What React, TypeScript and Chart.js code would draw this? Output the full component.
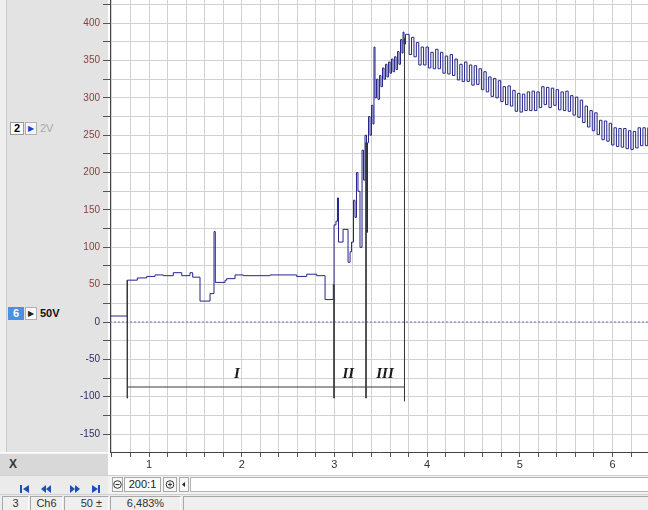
import React, { useEffect, useRef } from 'react';
import { Chart, registerables } from 'chart.js';

Chart.register(...registerables);

// ---------- axis ranges & tick labels ----------
const X_MIN = 0.579;
const X_MAX = 6.383;
const Y_MIN = -174;
const Y_MAX = 431;
const xTickLabels = [1, 2, 3, 4, 5, 6];
const yTickLabels = [400, 350, 300, 250, 200, 150, 100, 50, 0, -50, -100, -150];

// ---------- trace data (time in s, value) ----------
// Phase I: sample-and-hold levels
const phase1Times = [0.579, 0.766, 0.874, 0.975, 1.065, 1.154, 1.262, 1.353, 1.442, 1.471, 1.55, 1.658, 1.701, 1.715, 1.82, 1.838, 1.928, 2.017, 2.305, 2.593, 2.701, 2.809, 2.899, 2.988];
const phase1Values = [8, 56, 59, 61, 63, 62, 66, 62, 66, 60, 28, 38, 121, 53, 56, 58, 63, 62, 63, 61, 64, 62, 30, 50];

// Phase II
const phase2Times = [2.996, 3.017, 3.033, 3.044, 3.093, 3.147, 3.169, 3.185, 3.206, 3.222, 3.238, 3.254, 3.276, 3.298, 3.314, 3.33, 3.346, 3.357];
const phase2Values = [130, 135, 166, 107, 124, 80, 94, 107, 163, 140, 200, 175, 100, 230, 190, 250, 120, 240];

// Phase III rise to peak
const riseTimes = [3.368, 3.384, 3.4, 3.416, 3.427, 3.438, 3.454, 3.47, 3.487, 3.502, 3.519, 3.535, 3.551, 3.567, 3.584, 3.6, 3.616, 3.632, 3.649, 3.665, 3.681, 3.697, 3.713, 3.729, 3.74, 3.751, 3.767];
const riseValues = [275, 250, 290, 265, 368, 300, 325, 298, 330, 315, 340, 325, 345, 328, 348, 333, 352, 335, 355, 338, 362, 345, 378, 360, 388, 372, 385];

// Phase III decay: samples every DECAY_STEP s from DECAY_START
const DECAY_START = 3.78;
const DECAY_STEP = 0.026;
const decayValues = [
  385, 358, 381, 355, 374, 344, 368, 344, 368, 340,
  361, 339, 365, 339, 361, 333, 356, 332, 358, 330,
  352, 324, 345, 322, 348, 322, 344, 317, 343, 318,
  339, 311, 335, 308, 328, 302, 326, 300, 323, 295,
  315, 291, 316, 289, 310, 282, 306, 281, 305, 283,
  308, 283, 309, 283, 308, 287, 315, 291, 314, 287,
  313, 290, 311, 284, 308, 283, 309, 282, 303, 277,
  301, 274, 297, 267, 289, 261, 283, 256, 280, 251,
  270, 244, 269, 242, 266, 237, 260, 235, 259, 234,
  259, 232, 256, 231, 255, 233, 260, 236, 260, 236,
  260, 238,
];

// ---------- phase markers ----------
const markerTimes = [0.766, 2.996, 3.341, 3.756];
const markerTops = [56, 50, 240, 380];
const markerBottoms = [-102, -102, -102, -106];
const bracketLevel = -87;
const phaseLabels = ['I', 'II', 'III'];
const phaseLabelTimes = [1.949, 3.15, 3.546];
const phaseLabelLevel = -70;

const TRACE_COLOR = '#24248a';
const GRID_COLOR = '#d2d2d2';

function buildTrace() {
  const pts: { x: number; y: number }[] = [];
  phase1Times.forEach((t, i) => pts.push({ x: t, y: phase1Values[i] }));
  phase2Times.forEach((t, i) => pts.push({ x: t, y: phase2Values[i] }));
  riseTimes.forEach((t, i) => pts.push({ x: t, y: riseValues[i] }));
  decayValues.forEach((v, i) => pts.push({ x: DECAY_START + i * DECAY_STEP, y: v }));
  pts.push({ x: DECAY_START + decayValues.length * DECAY_STEP, y: decayValues[decayValues.length - 1] });
  return pts;
}

// vertical grid lines at every x tick (drawn beneath the data), aligned like Chart.js
const vGridPlugin = {
  id: 'vGrid',
  beforeDatasetsDraw(chart: any) {
    const { ctx, chartArea, scales } = chart;
    const xs = scales.x;
    ctx.save();
    ctx.strokeStyle = GRID_COLOR;
    ctx.lineWidth = 1;
    ctx.beginPath();
    xs.ticks.forEach((tk: any) => {
      const px = Math.round(xs.getPixelForValue(tk.value) - 0.5) + 0.5;
      ctx.moveTo(px, chartArea.top);
      ctx.lineTo(px, chartArea.bottom);
    });
    ctx.stroke();
    ctx.restore();
  },
};

const phaseLabelPlugin = {
  id: 'phaseLabels',
  afterDatasetsDraw(chart: any) {
    const { ctx, scales } = chart;
    const xs = scales.x;
    const ys = scales.y;
    ctx.save();
    ctx.font = 'italic bold 15px "Liberation Serif", "DejaVu Serif", serif';
    ctx.fillStyle = '#1a1a1a';
    ctx.textAlign = 'center';
    ctx.textBaseline = 'middle';
    phaseLabels.forEach((lab, i) => {
      ctx.fillText(lab, xs.getPixelForValue(phaseLabelTimes[i]), ys.getPixelForValue(phaseLabelLevel));
    });
    ctx.restore();
  },
};

function NavIcon({ kind }: { kind: string }) {
  const c = '#1f4fb5';
  if (kind === 'first')
    return (
      <svg width="10" height="10"><rect x="0" y="1" width="2" height="8" fill={c} /><polygon points="9,1 9,9 3,5" fill={c} /></svg>
    );
  if (kind === 'back')
    return (
      <svg width="12" height="10"><polygon points="6,1 6,9 1,5" fill={c} /><polygon points="11,1 11,9 6,5" fill={c} /></svg>
    );
  if (kind === 'fwd')
    return (
      <svg width="12" height="10"><polygon points="1,1 1,9 6,5" fill={c} /><polygon points="6,1 6,9 11,5" fill={c} /></svg>
    );
  return (
    <svg width="10" height="10"><polygon points="1,1 1,9 7,5" fill={c} /><rect x="7" y="1" width="2" height="8" fill={c} /></svg>
  );
}

export default function App() {
  const ref = useRef<HTMLCanvasElement>(null);

  useEffect(() => {
    document.body.style.margin = '0';
    const canvas = ref.current;
    if (!canvas) return;
    const datasets: any[] = [];
    datasets.push({
      data: buildTrace(),
      borderColor: TRACE_COLOR,
      borderWidth: 1,
      stepped: 'before',
      pointRadius: 0,
      fill: false,
      order: 2,
    });
    datasets.push({
      data: [{ x: X_MIN, y: 0 }, { x: X_MAX, y: 0 }],
      borderColor: '#6b6be0',
      borderWidth: 1,
      borderDash: [2, 2],
      pointRadius: 0,
      order: 3,
    });
    markerTimes.forEach((t, i) => {
      datasets.push({
        data: [{ x: t, y: markerTops[i] }, { x: t, y: markerBottoms[i] }],
        borderColor: '#3a3a3a',
        borderWidth: 1,
        pointRadius: 0,
        order: 1,
      });
    });
    datasets.push({
      data: [{ x: markerTimes[0], y: bracketLevel }, { x: markerTimes[markerTimes.length - 1], y: bracketLevel }],
      borderColor: '#3a3a3a',
      borderWidth: 1,
      pointRadius: 0,
      order: 1,
    });

    const chart = new Chart(canvas, {
      type: 'line',
      data: { datasets },
      options: {
        animation: false,
        responsive: false,
        maintainAspectRatio: false,
        events: [],
        layout: { padding: 0 },
        plugins: { legend: { display: false }, tooltip: { enabled: false } },
        scales: {
          x: {
            type: 'linear',
            min: X_MIN,
            max: X_MAX,
            afterFit: (s: any) => {
              s.height = 24;
              s.paddingLeft = 0;
              s.paddingRight = 0;
            },
            ticks: {
              stepSize: 0.2,
              autoSkip: false,
              includeBounds: false,
              maxRotation: 0,
              minRotation: 0,
              padding: 1,
              color: '#333',
              font: { family: '"Liberation Sans", Arial, sans-serif', size: 11 },
              callback: (v: any) => {
                const r = Math.round(Number(v) * 1000) / 1000;
                return xTickLabels.includes(r) ? String(r) : '';
              },
            },
            grid: { color: GRID_COLOR, tickColor: '#555', tickLength: 5, lineWidth: 1, drawOnChartArea: false },
            border: { display: true, color: '#444', width: 1 },
          },
          y: {
            type: 'linear',
            min: Y_MIN,
            max: Y_MAX,
            afterFit: (s: any) => {
              s.width = 110;
              s.paddingTop = 0;
              s.paddingBottom = 0;
            },
            ticks: {
              stepSize: 25,
              autoSkip: false,
              includeBounds: false,
              padding: 3,
              color: (c: any) => (c.tick && c.tick.value > 0 ? '#8a3d3d' : '#2e2e66'),
              font: { family: '"Liberation Sans", Arial, sans-serif', size: 10 },
              callback: (v: any) => {
                const r = Math.round(Number(v));
                return yTickLabels.includes(r) ? String(r) : '';
              },
            },
            grid: { color: GRID_COLOR, tickColor: '#555', tickLength: 7, lineWidth: 1 },
            border: { display: true, color: '#444', width: 1 },
          },
        },
      },
      plugins: [vGridPlugin, phaseLabelPlugin],
    } as any);
    return () => chart.destroy();
  }, []);

  const font = '"Liberation Sans", Arial, sans-serif';
  const abs = (s: any) => ({ position: 'absolute', boxSizing: 'border-box', ...s } as React.CSSProperties);

  return (
    <div style={{ position: 'fixed', left: 0, top: 0, width: 648, height: 510, background: '#fff', overflow: 'hidden', fontFamily: font }}>
      {/* left channel panel */}
      <div style={abs({ left: 0, top: 0, width: 108, height: 452, background: '#e3e3e3' })} />
      <div style={abs({ left: 0, top: 0, width: 7, height: 452, background: '#efefef', borderRight: '1px solid #c9c9c9' })} />

      {/* channel 2 label */}
      <div style={abs({ left: 10, top: 122, width: 14, height: 13, background: '#fff', border: '1px solid #9a9a9a', fontSize: 11, fontWeight: 'bold', textAlign: 'center', lineHeight: '11px', color: '#000' })}>2</div>
      <div style={abs({ left: 25, top: 122, width: 12, height: 13, background: '#f6f6f6', border: '1px solid #b0b0b0', fontSize: 8, color: '#1f3fd0', textAlign: 'center', lineHeight: '11px' })}>▶</div>
      <div style={abs({ left: 40, top: 122, fontSize: 11, color: '#a9a9a9', lineHeight: '13px' })}>2V</div>

      {/* channel 6 label */}
      <div style={abs({ left: 8, top: 307, width: 16, height: 13, background: '#4d8fe2', fontSize: 11, fontWeight: 'bold', textAlign: 'center', lineHeight: '13px', color: '#fff' })}>6</div>
      <div style={abs({ left: 25, top: 307, width: 12, height: 13, background: '#fafafa', border: '1px solid #b0b0b0', fontSize: 8, color: '#222', textAlign: 'center', lineHeight: '11px' })}>▶</div>
      <div style={abs({ left: 40, top: 307, fontSize: 11, fontWeight: 'bold', color: '#111', lineHeight: '13px' })}>50V</div>

      {/* X row */}
      <div style={abs({ left: 0, top: 453, width: 108, height: 22, background: '#d8d8d8', borderTop: '1px solid #f2f2f2' })}>
        <span style={{ position: 'absolute', left: 9, top: 3, fontSize: 12, fontWeight: 'bold', color: '#333' }}>X</span>
      </div>

      {/* navigation row */}
      <div style={abs({ left: 0, top: 475, width: 108, height: 19, background: '#ebebeb', borderTop: '1px solid #cfcfcf' })}>
        <div style={abs({ left: 20, top: 4 })}><NavIcon kind="first" /></div>
        <div style={abs({ left: 40, top: 4 })}><NavIcon kind="back" /></div>
        <div style={abs({ left: 69, top: 4 })}><NavIcon kind="fwd" /></div>
        <div style={abs({ left: 91, top: 4 })}><NavIcon kind="last" /></div>
      </div>
      <div style={abs({ left: 108, top: 475, width: 540, height: 19, background: '#f3f3f3', borderTop: '1px solid #cfcfcf' })} />
      <div style={abs({ left: 112, top: 477, width: 11, height: 15, background: '#f7f7f7', border: '1px solid #a8a8a8' })}>
        <svg width="9" height="13" style={{ position: 'absolute', left: 0, top: 0 }}>
          <circle cx="4.5" cy="6.5" r="3.8" fill="none" stroke="#333" strokeWidth="1" />
          <line x1="2.5" y1="6.5" x2="6.5" y2="6.5" stroke="#333" strokeWidth="1" />
        </svg>
      </div>
      <div style={abs({ left: 124, top: 477, width: 37, height: 15, background: '#fafafa', border: '1px solid #a8a8a8', fontSize: 11, color: '#222', textAlign: 'center', lineHeight: '13px' })}>200:1</div>
      <div style={abs({ left: 163, top: 477, width: 14, height: 15, background: '#f7f7f7', border: '1px solid #a8a8a8' })}>
        <svg width="12" height="13" style={{ position: 'absolute', left: 0, top: 0 }}>
          <circle cx="6" cy="6.5" r="3.8" fill="none" stroke="#333" strokeWidth="1" />
          <line x1="4" y1="6.5" x2="8" y2="6.5" stroke="#333" strokeWidth="1" />
          <line x1="6" y1="4.5" x2="6" y2="8.5" stroke="#333" strokeWidth="1" />
        </svg>
      </div>
      <div style={abs({ left: 179, top: 477, width: 10, height: 15, background: '#f7f7f7', border: '1px solid #a8a8a8' })}>
        <svg width="8" height="13" style={{ position: 'absolute', left: 0, top: 0 }}>
          <polygon points="5,4 5,9 2,6.5" fill="#222" />
        </svg>
      </div>
      <div style={abs({ left: 190, top: 477, width: 458, height: 15, background: '#fff', border: '1px solid #b5b5b5', borderRight: 'none' })} />

      {/* status bar */}
      <div style={abs({ left: 0, top: 494, width: 648, height: 16, background: '#ececec', borderTop: '1px solid #d0d0d0' })} />
      {[
        { l: 2, w: 27, t: '3', a: 'center' },
        { l: 30, w: 33, t: 'Ch6', a: 'center' },
        { l: 64, w: 45, t: '50 ±', a: 'right' },
        { l: 110, w: 71, t: '6,483%', a: 'center' },
        { l: 183, w: 470, t: '', a: 'left' },
      ].map((c, i) => (
        <div key={i} style={abs({ left: c.l, top: 496, width: c.w, height: 14, borderTop: '1px solid #a8a8a8', borderLeft: '1px solid #a8a8a8', borderRight: '1px solid #fff', background: '#efefef', fontSize: 11, color: '#333', textAlign: c.a, lineHeight: '13px', paddingRight: c.a === 'right' ? 6 : 0 })}>{c.t}</div>
      ))}

      {/* chart canvas */}
      <canvas ref={ref} width={648} height={476} style={{ position: 'absolute', left: 0, top: 0, width: 648, height: 476 }} />
    </div>
  );
}
